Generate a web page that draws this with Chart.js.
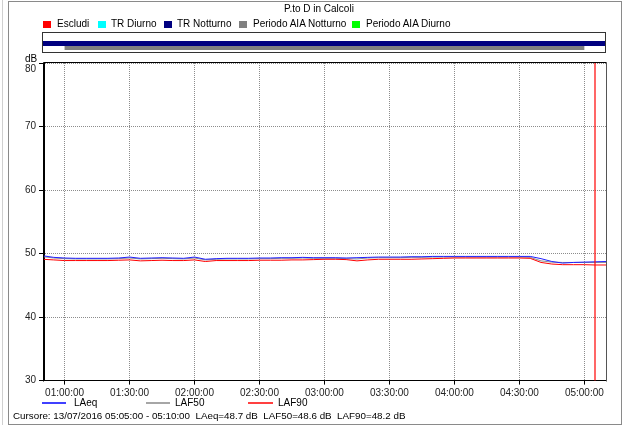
<!DOCTYPE html>
<html><head><meta charset="utf-8">
<script src="https://cdn.jsdelivr.net/npm/chart.js@4/dist/chart.umd.min.js"></script>
<style>
html,body{margin:0;padding:0;background:#fff;}
#wrap{position:relative;width:622px;height:425px;overflow:hidden;font-family:"Liberation Sans",Arial,sans-serif;color:#000;}
canvas{position:absolute;left:0;top:0;}
.t{position:absolute;font-size:10px;line-height:12px;white-space:nowrap;}
.sq{position:absolute;width:8px;height:7px;}
.ln{position:absolute;height:2px;}
#frame{position:absolute;left:8px;top:1px;width:612px;height:422px;border:1px solid #8a8a8a;}
#frame2{position:absolute;left:2px;top:0;width:1px;height:425px;background:#d0d0d0;}
</style></head>
<body><div id="wrap">
<div id="frame2"></div><div id="frame"></div>
<canvas id="c" width="622" height="425"></canvas>
<div class="t" style="left:284px;top:3px;">P.to D in Calcoli</div>
<div class="sq" style="left:43px;top:21px;background:#ff0000"></div><div class="t" style="left:57px;top:18px;">Escludi</div>
<div class="sq" style="left:98px;top:21px;background:#00ffff"></div><div class="t" style="left:111px;top:18px;">TR Diurno</div>
<div class="sq" style="left:164px;top:21px;background:#000080"></div><div class="t" style="left:177px;top:18px;">TR Notturno</div>
<div class="sq" style="left:239px;top:21px;background:#808080"></div><div class="t" style="left:253px;top:18px;">Periodo AIA Notturno</div>
<div class="sq" style="left:352px;top:21px;background:#00ff00"></div><div class="t" style="left:366px;top:18px;">Periodo AIA Diurno</div>
<div class="t" style="left:25px;top:53px;">dB</div>
<div class="ln" style="left:42px;top:402px;width:24px;background:rgba(0,0,255,0.75)"></div><div class="t" style="left:74px;top:397px;">LAeq</div>
<div class="ln" style="left:146px;top:402px;width:24px;background:rgba(128,128,128,0.7)"></div><div class="t" style="left:175px;top:397px;">LAF50</div>
<div class="ln" style="left:248px;top:402px;width:25px;background:rgba(255,0,0,0.75)"></div><div class="t" style="left:278px;top:397px;">LAF90</div>
<div class="t" style="left:13px;top:410px;font-size:9.8px;">Cursore: 13/07/2016 05:05:00 - 05:10:00&nbsp; LAeq=48.7 dB&nbsp; LAF50=48.6 dB&nbsp; LAF90=48.2 dB</div>
</div>
<script>
const timeLabels = ["00:50","00:55","01:00","01:05","01:10","01:15","01:20","01:25","01:30","01:35","01:40","01:45","01:50","01:55",
"02:00","02:05","02:10","02:15","02:20","02:25","02:30","02:35","02:40","02:45","02:50","02:55",
"03:00","03:05","03:10","03:15","03:20","03:25","03:30","03:35","03:40","03:45","03:50","03:55",
"04:00","04:05","04:10","04:15","04:20","04:25","04:30","04:35","04:40","04:45","04:50","04:55",
"05:00","05:05","05:10"];
const laeq = [49.65,49.4,49.3,49.25,49.25,49.25,49.25,49.3,49.45,49.25,49.3,49.35,49.3,49.25,
49.45,49.1,49.2,49.25,49.25,49.25,49.3,49.3,49.35,49.35,49.4,49.35,
49.35,49.35,49.3,49.35,49.4,49.45,49.45,49.45,49.5,49.5,49.55,49.55,
49.55,49.55,49.55,49.55,49.55,49.55,49.55,49.55,49.2,48.75,48.5,48.6,
48.65,48.7,48.75];
const laf50 = [49.5,49.3,49.2,49.15,49.15,49.15,49.15,49.2,49.3,49.15,49.2,49.25,49.2,49.15,
49.3,49.0,49.1,49.15,49.15,49.15,49.2,49.2,49.25,49.25,49.3,49.25,
49.25,49.25,49.2,49.15,49.3,49.35,49.35,49.35,49.4,49.4,49.45,49.45,
49.45,49.45,49.45,49.45,49.45,49.45,49.45,49.4,48.85,48.65,48.6,48.6,
48.6,48.6,48.6];
const laf90 = [49.1,49.0,48.9,48.9,48.9,48.9,48.9,48.95,49.0,48.85,48.9,48.95,48.9,48.9,
49.0,48.75,48.9,48.9,48.9,48.9,48.95,48.95,48.95,49.0,49.0,49.05,
49.1,49.1,49.05,48.85,49.0,49.1,49.1,49.1,49.1,49.15,49.2,49.25,
49.3,49.3,49.3,49.3,49.3,49.3,49.3,49.25,48.6,48.35,48.25,48.25,
48.25,48.2,48.2];
const xTickLabels = ["01:00:00","01:30:00","02:00:00","02:30:00","03:00:00","03:30:00","04:00:00","04:30:00","05:00:00"];
const yTicks = [30,40,50,60,70,80];
const trNotturno = ["00:50","05:10"];
const aiaNotturno = ["01:00","05:00"];
const cursorTime = "05:05";

const toMin = s => { const p = s.split(":").map(Number); return p[0]*60 + p[1] + (p[2]||0)/60; };
const pts = arr => arr.map((v,i) => ({x: toMin(timeLabels[i]), y: v}));

const overlay = {
  id: 'overlay',
  beforeDatasetsDraw(chart) {
    const {ctx, chartArea: a, scales: {x}} = chart;
    ctx.save();
    ctx.fillStyle = '#000080';
    const nx0 = Math.max(x.getPixelForValue(toMin(trNotturno[0])), a.left-1);
    const nx1 = Math.min(x.getPixelForValue(toMin(trNotturno[1])), a.right);
    ctx.fillRect(nx0, 41, nx1 - nx0, 5);
    ctx.fillStyle = '#808080';
    const gx0 = x.getPixelForValue(toMin(aiaNotturno[0]));
    const gx1 = x.getPixelForValue(toMin(aiaNotturno[1]));
    ctx.fillRect(gx0, 46, gx1 - gx0, 4);
    ctx.strokeStyle = '#333';
    ctx.lineWidth = 1;
    ctx.strokeRect(Math.round(a.left) - 1.5, 32.5, Math.round(a.right) - Math.round(a.left) + 1, 20);
    ctx.restore();
  },
  afterDatasetsDraw(chart) {
    const {ctx, chartArea: a, scales: {x}} = chart;
    ctx.save();
    const cx = Math.round(x.getPixelForValue(toMin(cursorTime)));
    ctx.strokeStyle = '#ff0000';
    ctx.lineWidth = 1.2;
    ctx.beginPath(); ctx.moveTo(cx, a.top); ctx.lineTo(cx, a.bottom); ctx.stroke();
    ctx.lineWidth = 1;
    ctx.strokeStyle = '#000';
    ctx.beginPath();
    ctx.moveTo(Math.round(a.left)-0.5, Math.round(a.bottom)+0.5);
    ctx.lineTo(Math.round(a.left)-0.5, Math.round(a.top)-0.5);
    ctx.lineTo(Math.round(a.right)+0.5, Math.round(a.top)-0.5);
    ctx.stroke();
    ctx.strokeStyle = '#555';
    ctx.beginPath();
    ctx.moveTo(Math.round(a.right)+0.5, Math.round(a.top)-0.5);
    ctx.lineTo(Math.round(a.right)+0.5, Math.round(a.bottom)+0.5);
    ctx.stroke();
    ctx.restore();
  }
};

const font = {family: '"Liberation Sans", Arial, sans-serif', size: 10};
new Chart(document.getElementById('c'), {
  type: 'line',
  data: {
    datasets: [
      {label: 'LAF50', data: pts(laf50), borderColor: '#909090', borderWidth: 1, pointRadius: 0, tension: 0, order: 3},
      {label: 'LAF90', data: pts(laf90), borderColor: '#ff0000', borderWidth: 1, pointRadius: 0, tension: 0, order: 2},
      {label: 'LAeq', data: pts(laeq), borderColor: '#2020ff', borderWidth: 1, pointRadius: 0, tension: 0, order: 1}
    ]
  },
  options: {
    responsive: false, animation: false, devicePixelRatio: 1,
    layout: {padding: {left: 0, top: 63, right: 16, bottom: 0}},
    plugins: {legend: {display: false}, tooltip: {enabled: false}, title: {display: false}},
    scales: {
      x: {
        type: 'linear', min: 50.5, max: 310,
        afterBuildTicks: ax => { ax.ticks = xTickLabels.map(l => ({value: toMin(l)})); },
        afterFit: ax => { ax.height = 44.4; },
        ticks: {font, color: '#222', padding: 3, maxRotation: 0, autoSkip: false,
          callback: (v) => xTickLabels.find(l => Math.abs(toMin(l) - v) < 0.01) || ''},
        grid: {color: '#8c8c8c', tickColor: '#000', tickLength: 4, tickBorderDash: [], drawOnChartArea: true},
        border: {display: true, color: '#000', dash: [1,1]}
      },
      y: {
        min: 30, max: 80,
        afterBuildTicks: ax => { ax.ticks = yTicks.map(v => ({value: v})); },
        afterFit: ax => { ax.width = 44; },
        ticks: {font, color: '#222', padding: 3,
          callback: v => v === yTicks[yTicks.length-1] ? ['', String(v)] : String(v)},
        grid: {color: '#8c8c8c', tickColor: '#000', tickLength: 5, tickBorderDash: []},
        border: {display: true, color: '#000', dash: [1,1]}
      }
    }
  },
  plugins: [overlay]
});
</script>
</body></html>
